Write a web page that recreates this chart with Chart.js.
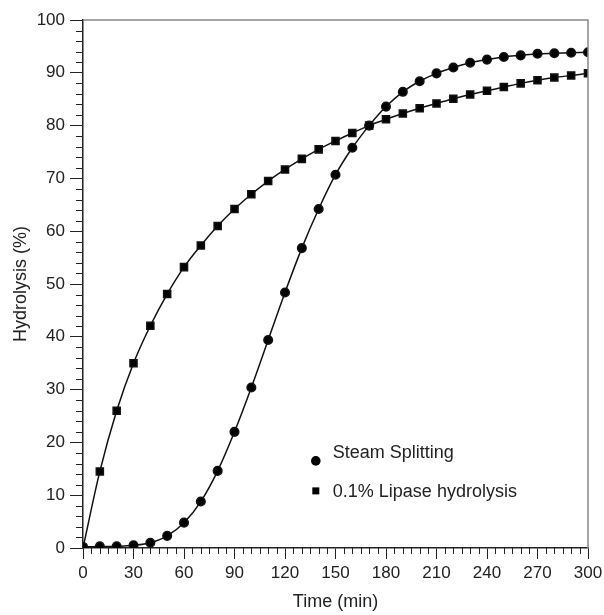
<!DOCTYPE html>
<html>
<head>
<meta charset="utf-8">
<script src="https://cdn.jsdelivr.net/npm/chart.js@4"></script>
<style>
  html, body { margin: 0; padding: 0; background: #fff; }
  #wrap { width: 604px; height: 615px; }
</style>
</head>
<body>
<div id="wrap"><canvas id="mychart" width="604" height="615"></canvas></div>
<script>
// time points (min)
const times = [0, 10, 20, 30, 40, 50, 60, 70, 80, 90, 100, 110, 120, 130, 140, 150,
    160, 170, 180, 190, 200, 210, 220, 230, 240, 250, 260, 270, 280, 290, 300];

// hydrolysis (%)
const steamSplitting = [0.2, 0.3, 0.3, 0.5, 1.0, 2.3, 4.8, 8.8, 14.6, 22.0, 30.4, 39.4, 48.4, 56.8, 64.2, 70.7,
    75.8, 80.0, 83.6, 86.4, 88.4, 89.9, 91.0, 91.9, 92.5, 93.0, 93.3, 93.6, 93.7, 93.8, 93.9];
const lipase = [0.0, 14.5, 26.0, 35.0, 42.1, 48.1, 53.2, 57.3, 61.0, 64.2, 67.0, 69.5, 71.7, 73.7, 75.5, 77.1,
    78.6, 80.0, 81.2, 82.3, 83.3, 84.2, 85.1, 85.9, 86.6, 87.3, 88.0, 88.6, 89.1, 89.5, 89.9];

const seriesLabels = ['Steam Splitting', '0.1% Lipase hydrolysis'];
const xTicks = [0, 30, 60, 90, 120, 150, 180, 210, 240, 270, 300];
const yTicks = [0, 10, 20, 30, 40, 50, 60, 70, 80, 90, 100];

const FONT = "'Liberation Sans', Arial, sans-serif";

function toPoints(vals) {
    return times.map((t, i) => ({ x: t, y: vals[i] }));
}

// minor ticks, top/right frame and the in-plot legend
const extras = {
    id: 'extras',
    afterDraw(chart) {
        const { ctx, chartArea: a, scales: { x, y } } = chart;
        ctx.save();
        ctx.strokeStyle = '#888';
        ctx.lineWidth = 1.5;
        ctx.beginPath();
        ctx.moveTo(a.left, a.top);
        ctx.lineTo(a.right, a.top);
        ctx.lineTo(a.right, a.bottom);
        ctx.stroke();

        ctx.strokeStyle = '#222';
        ctx.lineWidth = 1;
        ctx.beginPath();
        for (let v = 0; v <= 300; v += 5) {
            if (v % 30 === 0) continue;
            const px = Math.round(x.getPixelForValue(v)) + 0.5;
            ctx.moveTo(px, a.bottom);
            ctx.lineTo(px, a.bottom + 6);
        }
        for (let v = 0; v <= 100; v += 2) {
            if (v % 10 === 0) continue;
            const py = Math.round(y.getPixelForValue(v)) + 0.5;
            ctx.moveTo(a.left, py);
            ctx.lineTo(a.left - 7, py);
        }
        ctx.stroke();

        // legend
        const lx = a.left + 0.461 * (a.right - a.left);
        const ly = a.top + 0.835 * (a.bottom - a.top);
        ctx.fillStyle = '#000';
        ctx.beginPath();
        ctx.arc(lx, ly, 4.8, 0, Math.PI * 2);
        ctx.fill();
        ctx.fillRect(lx - 3.5, ly + 30 - 3.5, 7, 7);
        ctx.font = '18px ' + FONT;
        ctx.textBaseline = 'middle';
        ctx.fillStyle = '#222';
        ctx.fillText(seriesLabels[0], lx + 17, ly - 8);
        ctx.fillText(seriesLabels[1], lx + 17, ly + 31);
        ctx.restore();
    }
};

const ctx = document.getElementById('mychart').getContext('2d');
const myChart = new Chart(ctx, {
    type: 'line',
    data: {
        datasets: [{
            label: seriesLabels[0],
            data: toPoints(steamSplitting),
            borderColor: '#111',
            backgroundColor: '#000',
            borderWidth: 1.5,
            pointStyle: 'circle',
            pointRadius: 4.3,
            cubicInterpolationMode: 'monotone'
        }, {
            label: seriesLabels[1],
            data: toPoints(lipase),
            borderColor: '#111',
            backgroundColor: '#000',
            borderWidth: 1.5,
            pointStyle: 'rect',
            pointRadius: 5,
            cubicInterpolationMode: 'monotone'
        }]
    },
    options: {
        responsive: false,
        animation: false,
        layout: { padding: { top: 20, right: 16, left: 0, bottom: 0 } },
        plugins: {
            legend: { display: false },
            tooltip: { enabled: false }
        },
        scales: {
            x: {
                type: 'linear',
                min: 0,
                max: 300,
                afterBuildTicks: (s) => { s.ticks = xTicks.map(v => ({ value: v })); },
                afterFit: (s) => {
                    s.height = 67;
                    s.paddingLeft = 0;
                    s.paddingRight = 0;
                },
                border: { display: true, color: '#222', width: 1.5 },
                grid: { drawOnChartArea: false, drawTicks: true, tickLength: 11, color: '#222' },
                ticks: { color: '#222', font: { family: FONT, size: 17 }, padding: 4, maxRotation: 0 },
                title: { display: true, text: 'Time (min)', color: '#222', font: { family: FONT, size: 18 }, padding: { top: 2, bottom: 2 } }
            },
            y: {
                min: 0,
                max: 100,
                afterBuildTicks: (s) => { s.ticks = yTicks.map(v => ({ value: v })); },
                afterFit: (s) => {
                    s.width = 83;
                    s.paddingTop = 0;
                    s.paddingBottom = 0;
                },
                border: { display: true, color: '#222', width: 1.5 },
                grid: { drawOnChartArea: false, drawTicks: true, tickLength: 13, color: '#222' },
                ticks: { color: '#222', font: { family: FONT, size: 17 }, padding: 5 },
                title: { display: true, text: 'Hydrolysis (%)', color: '#222', font: { family: FONT, size: 18 }, padding: { top: 10, bottom: 4 } }
            }
        }
    },
    plugins: [extras]
});
</script>
</body>
</html>
